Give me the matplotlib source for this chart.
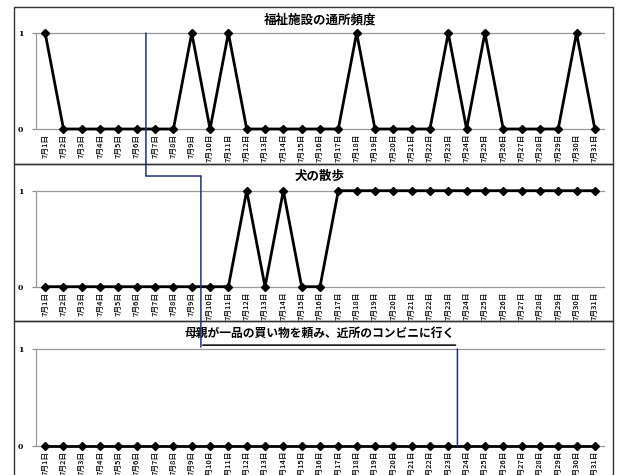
import matplotlib
matplotlib.use("Agg")
import matplotlib.pyplot as plt
from matplotlib.patches import Rectangle, ConnectionPatch

plt.rcParams['font.family'] = ['Noto Sans CJK JP', 'DejaVu Sans']

days = [f"7月{d}日" for d in range(1, 32)]

welfare_visits = [1, 0, 0, 0, 0, 0, 0, 0, 1, 0, 1, 0, 0, 0, 0, 0, 0, 1, 0, 0, 0, 0, 1, 0, 1, 0, 0, 0, 0, 1, 0]
dog_walk = [0, 0, 0, 0, 0, 0, 0, 0, 0, 0, 0, 1, 0, 1, 0, 0, 1, 1, 1, 1, 1, 1, 1, 1, 1, 1, 1, 1, 1, 1, 1]
errand = [0] * 31

titles = ["福祉施設の通所頻度", "犬の散歩", "母親が一品の買い物を頼み、近所のコンビニに行く"]
series = [welfare_visits, dog_walk, errand]

W, H = 617, 475
fig = plt.figure(figsize=(W / 100, H / 100), dpi=100)

# plot areas in pixels: (top, bottom) of the 0..1 range
plot_rows = [(33, 129), (190.7, 286.7), (349, 446)]
# outer panel frames (top, bottom) in pixels
frames = [(7, 164), (164, 321), (321, 490)]
title_offsets = [1.135, 1.153, 1.165]
title_sizes = [9, 9, 8.5]

for top, bottom in frames:
    fig.add_artist(Rectangle((14 / W, 1 - bottom / H), (613 - 14) / W, (bottom - top) / H,
                             transform=fig.transFigure, fill=False, edgecolor="#333333",
                             linewidth=1.0))

axes = []
for (top, bottom), vals, title, toff, tsize in zip(plot_rows, series, titles, title_offsets, title_sizes):
    ax = fig.add_axes([36 / W, 1 - bottom / H, 568 / W, (bottom - top) / H])
    ax.plot(range(31), vals, color="black", linewidth=2.0, marker="D", markersize=4,
            clip_on=False, zorder=3)
    ax.set_xlim(-0.5, 30.5)
    ax.set_ylim(0, 1)
    ax.set_yticks([0, 1])
    ax.set_yticklabels(["0", "1"], family="DejaVu Serif", fontweight="bold", fontsize=5.5)
    ax.set_xticks(range(31))
    ax.set_xticklabels(days, rotation=90, fontsize=5.5, fontweight="medium")
    ax.tick_params(axis="x", length=0, pad=3.5)
    ax.tick_params(axis="y", length=3, pad=6, color="#888888")
    for side in ["left", "top", "bottom"]:
        ax.spines[side].set_color("#999999")
        ax.spines[side].set_linewidth(0.9)
    ax.spines["right"].set_visible(False)
    ax.patch.set_alpha(0)
    ax.text(0.5, toff, title, transform=ax.transAxes, ha="center", va="center",
            fontsize=tsize, fontweight="bold")
    axes.append(ax)

ax1, ax2, ax3 = axes
link_color = "#22307a"

segments = [
    ((5.5, 1.0), ax1, (5.5, title_offsets[1]), ax2, link_color),
    ((5.5, title_offsets[1]), ax2, (8.5, title_offsets[1]), ax2, link_color),
    ((8.5, title_offsets[1]), ax2, (8.5, 1.02), ax3, link_color),
    ((8.6, 1.04), ax3, (22.4, 1.04), ax3, "black"),
    ((22.5, 1.0), ax3, (22.5, 0.0), ax3, link_color),
]
for xyA, axA, xyB, axB, col in segments:
    con = ConnectionPatch(xyA=xyA, coordsA=axA.get_xaxis_transform(),
                          xyB=xyB, coordsB=axB.get_xaxis_transform(),
                          color=col, linewidth=1.1)
    fig.add_artist(con)

fig.savefig("out.png", dpi=100)
